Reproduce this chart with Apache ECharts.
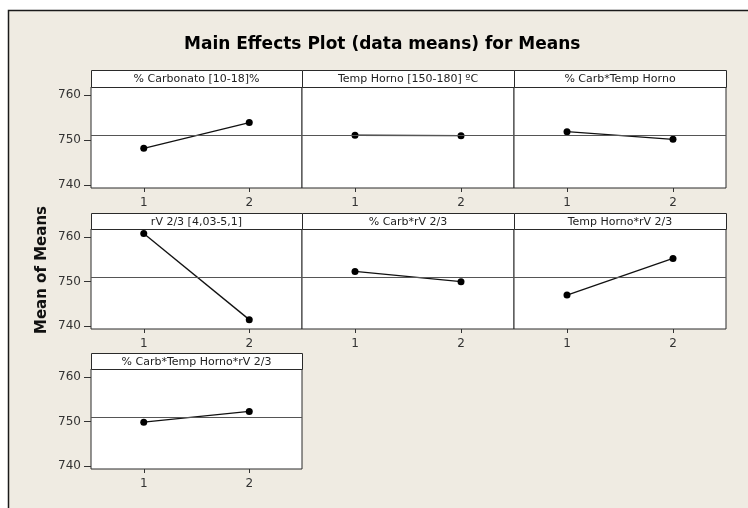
<!DOCTYPE html>
<html>
<head>
<meta charset="utf-8">
<script src="https://cdn.jsdelivr.net/npm/echarts@6/dist/echarts.min.js"></script>
<style>
  html, body { margin: 0; padding: 0; background: #fff; }
  #chart { width: 748px; height: 508px; }
</style>
</head>
<body>
<div id="chart"></div>
<script>
// factor levels on the x axis
const levels = ['1', '2']
const yTicks = [740, 750, 760]
const grandMean = 751.1

const panelTitles = [
  '% Carbonato [10-18]%',
  'Temp Horno [150-180] ºC',
  '% Carb*Temp Horno',
  'rV 2/3 [4,03-5,1]',
  '% Carb*rV 2/3',
  'Temp Horno*rV 2/3',
  '% Carb*Temp Horno*rV 2/3'
]
// means at level 1 / level 2
const carbonato = [748.2, 753.9]
const tempHorno = [751.1, 751.0]
const carbTemp = [751.9, 750.2]
const rv = [760.8, 741.5]
const carbRv = [752.3, 750.0]
const tempRv = [747.0, 755.2]
const carbTempRv = [749.9, 752.3]
const panelMeans = [carbonato, tempHorno, carbTemp, rv, carbRv, tempRv, carbTempRv]

// layout of the 3x3 panel grid (pixels)
const colLeft = [91, 302, 514]
const colWidth = [211, 212, 212]
const headTop = [70, 213, 353]
const plotTop = [87, 229, 369]
const plotH = [101, 100, 100]

const font = 'DejaVu Sans'
const frame = '#2a2a2a'
const grids = [], xAxes = [], yAxes = [], series = [], graphics = []

// white margin + frame round the beige page
graphics.push(
  { type: 'rect', shape: { x: 0, y: 0, width: 748, height: 10 }, style: { fill: '#fff' } },
  { type: 'rect', shape: { x: 0, y: 0, width: 8, height: 508 }, style: { fill: '#fff' } },
  { type: 'polyline', shape: { points: [[8.5, 508], [8.5, 10.5], [748, 10.5]] }, style: { stroke: '#1a1a1a', lineWidth: 1.5, fill: null } },
  {
    type: 'text', x: 42, y: 270, rotation: Math.PI / 2,
    style: { text: 'Mean of Means', font: 'bold 15px "DejaVu Sans"', fill: '#111', textAlign: 'center', textVerticalAlign: 'middle' }
  }
)

panelMeans.forEach((vals, i) => {
  const r = Math.floor(i / 3), c = i % 3
  grids.push({
    left: colLeft[c], top: plotTop[r], width: colWidth[c], height: plotH[r],
    show: true, backgroundColor: '#fff', borderColor: frame, borderWidth: 1
  })
  xAxes.push({
    type: 'category', gridIndex: i, data: levels, boundaryGap: true,
    axisLine: { show: false },
    axisTick: { show: true, alignWithLabel: true, length: 4, lineStyle: { color: '#333' } },
    axisLabel: { margin: 9, fontSize: 12, fontFamily: font, color: '#333' },
    splitLine: { show: false }
  })
  yAxes.push({
    type: 'value', gridIndex: i, min: 739.4, max: 761.8,
    show: c === 0,
    axisLine: { show: false },
    axisTick: { show: true, length: 7, customValues: yTicks, lineStyle: { color: '#333' } },
    axisLabel: { margin: 10, fontSize: 12, fontFamily: font, color: '#333', customValues: yTicks },
    splitLine: { show: false }
  })
  series.push({
    type: 'line', xAxisIndex: i, yAxisIndex: i, data: vals,
    symbol: 'circle', symbolSize: 7, silent: true,
    itemStyle: { color: '#000' },
    lineStyle: { color: '#111', width: 1.3 },
    markLine: {
      silent: true, symbol: 'none', label: { show: false },
      lineStyle: { color: '#555', width: 1, type: 'solid' },
      data: [{ yAxis: grandMean }]
    }
  })
  // panel header strip
  graphics.push({
    type: 'rect',
    shape: { x: colLeft[c] + 0.5, y: headTop[r] + 0.5, width: colWidth[c], height: plotTop[r] - headTop[r] },
    style: { fill: '#fff', stroke: frame, lineWidth: 1 }
  }, {
    type: 'text', x: colLeft[c] + colWidth[c] / 2, y: (headTop[r] + plotTop[r]) / 2 + 1,
    style: { text: panelTitles[i], font: '11px "DejaVu Sans"', fill: '#222', textAlign: 'center', textVerticalAlign: 'middle' }
  })
})

const chart = echarts.init(document.getElementById('chart'))
chart.setOption({
  backgroundColor: '#efebe2',
  animation: false,
  title: {
    text: 'Main Effects Plot (data means) for Means',
    left: 184, top: 36, padding: 0,
    textStyle: { fontFamily: font, fontWeight: 'bold', fontSize: 17, color: '#000' }
  },
  grid: grids,
  xAxis: xAxes,
  yAxis: yAxes,
  series: series,
  graphic: { elements: graphics }
})
</script>
</body>
</html>
